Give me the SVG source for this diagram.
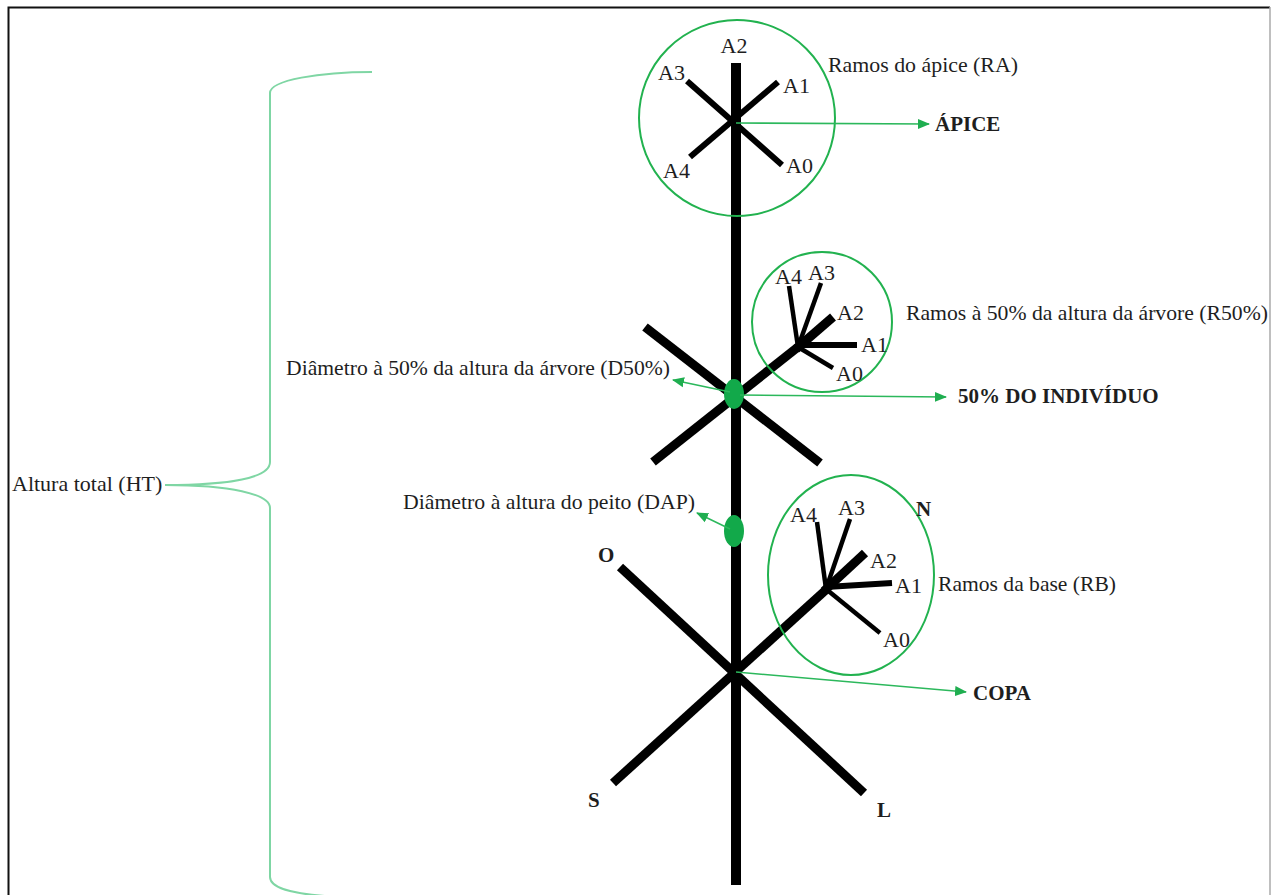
<svg xmlns="http://www.w3.org/2000/svg" width="1271" height="895" viewBox="0 0 1271 895">
  <style>
    .lbl { font-family: "Liberation Serif", "Times New Roman", serif; font-size: 22px; fill: #1e1e1e; }
    .bold { font-weight: bold; font-size: 21px; }
    .trunk { stroke: #000; stroke-width: 10; stroke-linecap: butt; fill: none; }
    .limb { stroke: #000; stroke-width: 9; stroke-linecap: butt; fill: none; }
    .twig { stroke: #000; stroke-width: 6; stroke-linecap: butt; fill: none; }
    .fine { stroke: #000; stroke-width: 4.5; stroke-linecap: butt; fill: none; }
    .ring { stroke: #22b24f; stroke-width: 2; fill: none; }
    .dot { fill: #12a94a; }
    .arrow { stroke: #2cb85c; stroke-width: 1.6; fill: none; marker-end: url(#head); }
    .brace { stroke: #7fd6a4; stroke-width: 2; fill: none; }
  </style>
  <defs>
    <marker id="head" markerUnits="userSpaceOnUse" markerWidth="12" markerHeight="12" viewBox="0 0 12 12" refX="11" refY="6" orient="auto">
      <path d="M0,1 L12,6 L0,11 Z" fill="#1fae50"/>
    </marker>
  </defs>

  <!-- frame -->
  <rect x="0" y="0" width="1271" height="895" fill="#fff"/>
  <path d="M8.5,905 V7.5 H1270" stroke="#111" stroke-width="2" fill="none"/>
  <line x1="1270" y1="7" x2="1270" y2="895" stroke="#aaa" stroke-width="1.5"/>

  <!-- total height brace -->
  <g id="brace">
    <path class="brace" d="M372,72 C320,72 270,80 270,93 V462 C270,478 230,485 165,485 C230,485 270,494 270,508 V877 C270,890 300,895 340,897"/>
    <text class="lbl" x="12" y="491">Altura total (HT)</text>
  </g>

  <!-- main stem -->
  <g id="trunk">
    <line class="trunk" x1="736" y1="63" x2="736" y2="885"/>
  </g>

  <!-- apex branches -->
  <g id="apex">
    <circle class="ring" cx="737" cy="118" r="98"/>
    <line class="twig" x1="687" y1="81" x2="782" y2="165"/>
    <line class="twig" x1="778" y1="82" x2="690" y2="157"/>
    <text class="lbl" x="734" y="53" text-anchor="middle">A2</text>
    <text class="lbl" x="658" y="80">A3</text>
    <text class="lbl" x="783" y="93">A1</text>
    <text class="lbl" x="663" y="178">A4</text>
    <text class="lbl" x="786" y="173">A0</text>
    <text class="lbl" x="828" y="72" textLength="190" lengthAdjust="spacingAndGlyphs">Ramos do ápice (RA)</text>
    <text class="lbl bold" x="935" y="131">ÁPICE</text>
  </g>

  <!-- branches at half height -->
  <g id="mid">
    <line class="limb" x1="645" y1="327" x2="820" y2="463"/>
    <line class="limb" x1="653" y1="462" x2="798" y2="347"/>
    <line class="limb" x1="796" y1="349" x2="833" y2="317"/>
    <line class="fine" x1="798" y1="347" x2="789" y2="286"/>
    <line class="fine" x1="798" y1="347" x2="821" y2="283"/>
    <line class="twig" x1="798" y1="345" x2="857" y2="345"/>
    <line class="fine" x1="798" y1="347" x2="833" y2="368"/>
    <circle class="ring" cx="822" cy="322" r="70"/>
    <text class="lbl" x="775" y="284">A4</text>
    <text class="lbl" x="808" y="280">A3</text>
    <text class="lbl" x="837" y="320">A2</text>
    <text class="lbl" x="861" y="352">A1</text>
    <text class="lbl" x="836" y="381">A0</text>
    <text class="lbl" x="906" y="320" textLength="362" lengthAdjust="spacingAndGlyphs">Ramos à 50% da altura da árvore (R50%)</text>
    <text class="lbl bold" x="958" y="403">50% DO INDIVÍDUO</text>
    <text class="lbl" x="670" y="375" text-anchor="end" textLength="384" lengthAdjust="spacingAndGlyphs">Diâmetro à 50% da altura da árvore (D50%)</text>
    <ellipse class="dot" cx="734" cy="394" rx="10" ry="15"/>
  </g>

  <!-- breast height -->
  <g id="dap">
    <ellipse class="dot" cx="734" cy="531" rx="10" ry="16"/>
    <text class="lbl" x="403" y="509" textLength="292" lengthAdjust="spacingAndGlyphs">Diâmetro à altura do peito (DAP)</text>
  </g>

  <!-- base crown with cardinal points -->
  <g id="base">
    <line class="limb" x1="620" y1="567" x2="864" y2="793"/>
    <line class="limb" x1="613" y1="783" x2="828" y2="588"/>
    <line class="limb" x1="824" y1="591" x2="865" y2="553"/>
    <line class="fine" x1="826" y1="589" x2="817" y2="522"/>
    <line class="fine" x1="826" y1="589" x2="850" y2="519"/>
    <line class="twig" x1="826" y1="587" x2="892" y2="583"/>
    <line class="fine" x1="826" y1="589" x2="880" y2="633"/>
    <ellipse class="ring" cx="851" cy="575" rx="83" ry="100"/>
    <text class="lbl" x="790" y="522">A4</text>
    <text class="lbl" x="838" y="515">A3</text>
    <text class="lbl" x="870" y="568">A2</text>
    <text class="lbl" x="895" y="593">A1</text>
    <text class="lbl" x="883" y="647">A0</text>
    <text class="lbl" x="938" y="591" textLength="178" lengthAdjust="spacingAndGlyphs">Ramos da base (RB)</text>
    <text class="lbl bold" x="973" y="700">COPA</text>
    <text class="lbl bold" x="598" y="562">O</text>
    <text class="lbl bold" x="588" y="807">S</text>
    <text class="lbl bold" x="877" y="817">L</text>
    <text class="lbl bold" x="916" y="516">N</text>
  </g>

  <!-- pointers -->
  <g id="connectors">
    <line class="arrow" x1="736" y1="123" x2="929" y2="124"/>
    <line class="arrow" x1="740" y1="395" x2="946" y2="397"/>
    <line class="arrow" x1="730" y1="392" x2="673" y2="380"/>
    <line class="arrow" x1="730" y1="529" x2="697" y2="513"/>
    <line class="arrow" x1="736" y1="672" x2="966" y2="692"/>
  </g>
</svg>
